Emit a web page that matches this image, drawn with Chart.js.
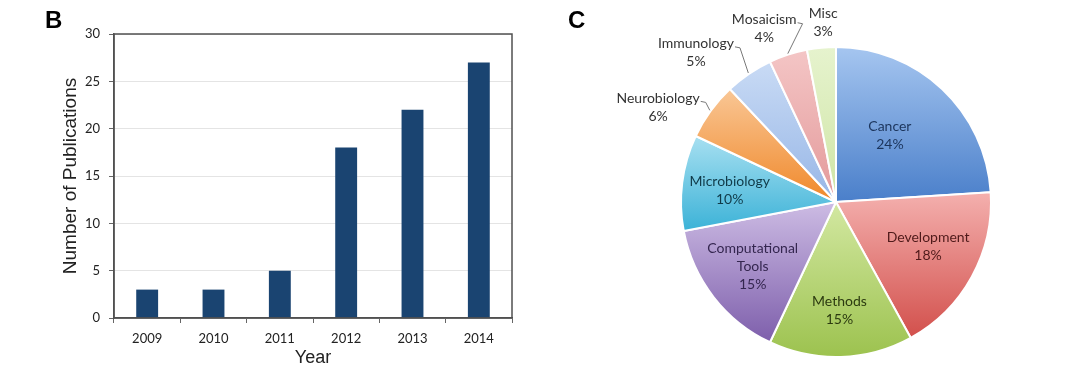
<!DOCTYPE html>
<html><head><meta charset="utf-8">
<script src="https://cdn.jsdelivr.net/npm/chart.js@4"></script>
<style>
html,body{margin:0;padding:0;background:#fff;}
#wrap{position:relative;width:1080px;height:385px;overflow:hidden;background:#fff;}
#barBox{position:absolute;left:0;top:0;width:540px;height:385px;}
#pieBox{position:absolute;left:540px;top:0;width:540px;height:385px;}
.panel{position:absolute;font:bold 24px "Liberation Sans",Arial,sans-serif;color:#000;line-height:28px;}
</style></head>
<body><div id="wrap">
<div id="barBox"><canvas id="bar" width="540" height="385"></canvas></div>
<div id="pieBox"><canvas id="pie" width="540" height="385"></canvas></div>
<div class="panel" style="left:45px;top:6px">B</div>
<div class="panel" style="left:568px;top:6px">C</div>
</div>
<script>
// ---- data ----
const years = ['2009', '2010', '2011', '2012', '2013', '2014'];
const publications = [3, 3, 5, 18, 22, 27];
const yTickValues = [0, 5, 10, 15, 20, 25, 30];
const topics = ['Cancer', 'Development', 'Methods', ['Computational', 'Tools'], 'Microbiology', 'Neurobiology', 'Immunology', 'Mosaicism', 'Misc'];
const topicShares = [24, 18, 15, 15, 10, 6, 5, 4, 3];

// ---- styles ----
const sliceColors = [
  ['#a6c6f0', '#4a7fca'],
  ['#f4b0ae', '#d24f4b'],
  ['#d3e8a2', '#9cc24e'],
  ['#cdbce4', '#7d5eab'],
  ['#a8e0f1', '#3bb2d7'],
  ['#f9c796', '#f0882a'],
  ['#c9dbf5', '#97b6e6'],
  ['#f4c6c6', '#e3999a'],
  ['#e6f3ce', '#cfe5a5']
];
const labelPlace = [
  {r: 0.55, shift: -4, color: '#1c355c'},
  {r: 0.66, shift: -3, color: '#4f1a1a'},
  {r: 0.70, shift: 0, color: '#2c3a10'},
  {r: 0.68, shift: 0, color: '#34264f'},
  {r: 0.69, shift: -1, color: '#103a48'},
  {r: 1.30, shift: -8, color: '#333', leader: true},
  {r: 1.32, shift: -9, color: '#333', leader: true},
  {r: 1.21, shift: -4.5, color: '#333', leader: true},
  {r: 1.16, shift: 1.3, color: '#333', leader: false}
];

const frame = {
  id: 'frame',
  afterDraw(chart) {
    const a = chart.chartArea, c = chart.ctx;
    c.save(); c.strokeStyle = '#505050'; c.lineWidth = 1.5;
    c.strokeRect(a.left, a.top, a.right - a.left, a.bottom - a.top);
    c.restore();
  }
};

new Chart(document.getElementById('bar'), {
  type: 'bar',
  data: {labels: years, datasets: [{data: publications, backgroundColor: '#1a4471', barPercentage: 0.33, categoryPercentage: 1}]},
  options: {
    responsive: false, animation: false, events: [],
    layout: {padding: {left: 55, top: 34, right: 28, bottom: 12}},
    plugins: {legend: {display: false}, tooltip: {enabled: false}},
    scales: {
      x: {
        grid: {display: true, drawOnChartArea: false, tickLength: 5, tickColor: '#666', offset: true},
        border: {display: true, color: '#505050', width: 1.5},
        ticks: {padding: 8, color: '#222', font: {family: 'Lato', size: 13}},
        title: {display: true, text: 'Year', color: '#222', font: {family: 'Liberation Sans', size: 18}, padding: {top: 0, bottom: 4}},
        afterFit(s) { s.height = 55; }
      },
      y: {
        min: 0, max: 30,
        afterBuildTicks(s) { s.ticks = yTickValues.map(v => ({value: v})); },
        grid: {color: '#e4e4e4', tickColor: '#666', tickLength: 5},
        border: {display: true, color: '#505050', width: 1.5},
        ticks: {padding: 9, color: '#222', font: {family: 'Lato', size: 13}},
        title: {display: true, text: 'Number of Publications', color: '#222', font: {family: 'Liberation Sans', size: 19}, padding: {top: 4, bottom: 0}},
        afterFit(s) { s.width = 59; }
      }
    }
  },
  plugins: [frame]
});

function sliceFill(ctx) {
  const chart = ctx.chart, area = chart.chartArea, i = ctx.dataIndex, pair = sliceColors[i];
  if (!area) return pair[1];
  const cx = (area.left + area.right) / 2, cy = (area.top + area.bottom) / 2;
  const R = Math.min(area.right - area.left, area.bottom - area.top) / 2;
  const data = ctx.dataset.data, total = data.reduce((a, b) => a + b, 0);
  let before = 0; for (let k = 0; k < i; k++) before += data[k];
  const a0 = -Math.PI / 2 + 2 * Math.PI * before / total, a1 = a0 + 2 * Math.PI * data[i] / total;
  const ys = [cy, cy + R * Math.sin(a0), cy + R * Math.sin(a1)];
  for (const t of [-Math.PI / 2, Math.PI / 2, 3 * Math.PI / 2]) if (t > a0 && t < a1) ys.push(cy + R * Math.sin(t));
  const y0 = Math.min(...ys), y1 = Math.max(...ys);
  const g = chart.ctx.createLinearGradient(0, y0, 0, y1 + 0.01);
  g.addColorStop(0, pair[0]); g.addColorStop(1, pair[1]);
  return g;
}

const sliceLabels = {
  id: 'sliceLabels',
  afterDatasetsDraw(chart) {
    const c = chart.ctx, meta = chart.getDatasetMeta(0), ds = chart.data.datasets[0];
    c.save();
    meta.data.forEach((arc, i) => {
      const p = arc.getProps(['x', 'y', 'startAngle', 'endAngle', 'outerRadius'], true);
      const pl = labelPlace[i];
      const midA = (p.startAngle + p.endAngle) / 2;
      const ang = midA + pl.shift * Math.PI / 180;
      const r = p.outerRadius * pl.r;
      const cx = p.x + r * Math.cos(ang), cy = p.y + r * Math.sin(ang);
      const name = chart.data.labels[i];
      const lines = (Array.isArray(name) ? name : [name]).concat([ds.data[i] + '%']);
      c.font = '14px Lato'; c.textAlign = 'center'; c.textBaseline = 'middle'; c.fillStyle = pl.color;
      const lh = 18, y0 = cy - (lines.length - 1) * lh / 2;
      lines.forEach((t, k) => c.fillText(t, cx, y0 + k * lh));
      if (pl.leader) {
        const w = c.measureText(lines[0]).width;
        const sx = cx + w / 2 + 1, sy = y0 + 3;
        const ex = p.x + (p.outerRadius + 1) * Math.cos(midA), ey = p.y + (p.outerRadius + 1) * Math.sin(midA);
        c.beginPath(); c.moveTo(sx, sy); c.lineTo(sx + 5, sy + 1); c.lineTo(ex, ey);
        c.strokeStyle = '#777'; c.lineWidth = 1; c.stroke();
      }
    });
    c.restore();
  }
};

new Chart(document.getElementById('pie'), {
  type: 'pie',
  data: {labels: topics, datasets: [{data: topicShares, backgroundColor: sliceFill, borderColor: '#ffffff', borderWidth: 2}]},
  options: {
    responsive: false, animation: false, events: [],
    layout: {padding: {left: 140, top: 46, right: 88, bottom: 27}},
    plugins: {legend: {display: false}, tooltip: {enabled: false}}
  },
  plugins: [sliceLabels]
});
</script>
</body></html>
